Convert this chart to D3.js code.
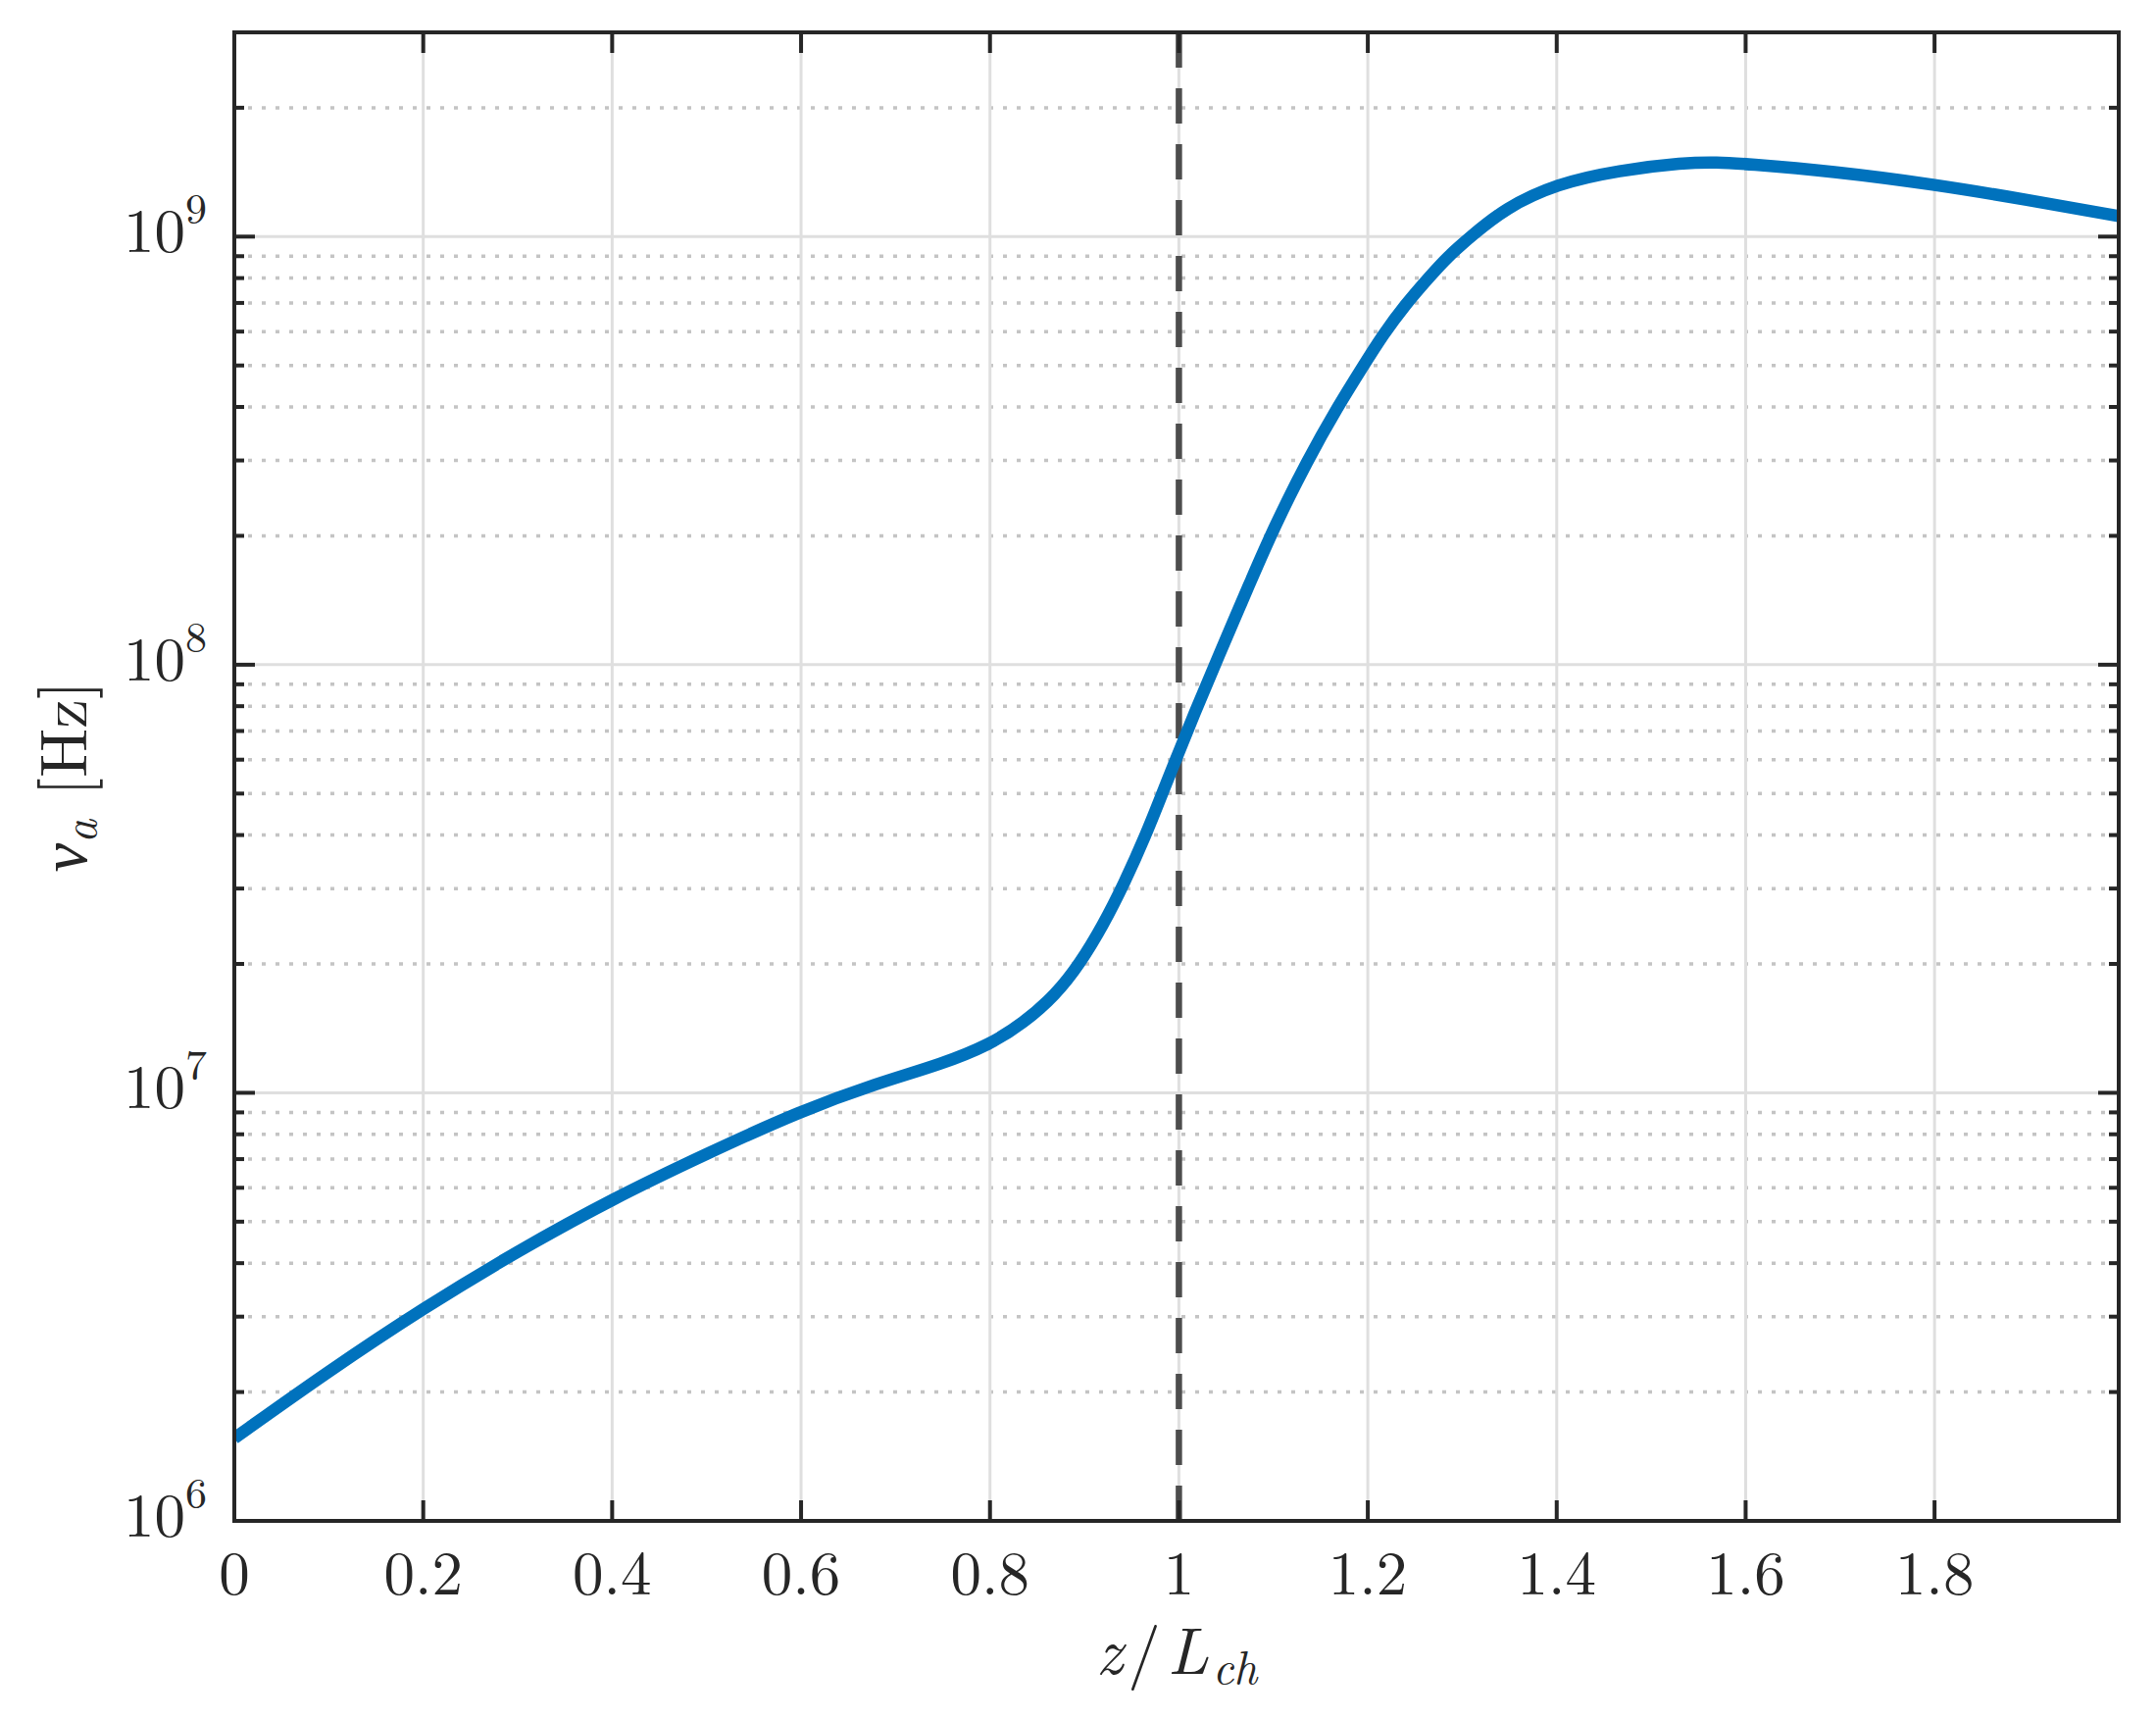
<!DOCTYPE html>
<html>
<head>
<meta charset="utf-8">
<script src="https://cdn.jsdelivr.net/npm/d3@7"></script>
<style>
  html, body { margin: 0; padding: 0; background: #fff; }
  svg { display: block; }
  text { font-family: "Latin Modern Roman", "CMU Serif", "Liberation Serif", serif; fill: #262626; }
</style>
</head>
<body>
<svg id="chart"></svg>
<script>
// z / L_ch positions
const zValues = [
    0.000, 0.100, 0.200, 0.300, 0.400, 0.500, 0.600, 0.680, 0.750, 0.800,
    0.835, 0.870, 0.895, 0.920, 0.942, 0.965, 0.982, 0.995, 1.016, 1.042,
    1.075, 1.101, 1.136, 1.168, 1.195, 1.216, 1.240, 1.264, 1.285, 1.309,
    1.345, 1.400, 1.466, 1.535, 1.570, 1.600, 1.691, 1.800, 1.898, 1.995
];

// nu_a in Hz at those positions
const nuValues = [
    1.56e6, 2.24e6, 3.14e6, 4.27e6, 5.65e6, 7.21e6, 9.08e6, 1.052e7, 1.169e7, 1.297e7,
    1.452e7, 1.698e7, 2.00e7, 2.47e7, 3.08e7, 4.00e7, 4.98e7, 5.87e7, 7.66e7, 1.047e8,
    1.55e8, 2.10e8, 3.00e8, 4.00e8, 4.98e8, 5.90e8, 6.95e8, 8.00e8, 9.00e8, 1.00e9,
    1.164e9, 1.33e9, 1.429e9, 1.489e9, 1.493e9, 1.479e9, 1.422e9, 1.324e9, 1.219e9, 1.117e9
];

const xTicks = [0, 0.2, 0.4, 0.6, 0.8, 1, 1.2, 1.4, 1.6, 1.8];
const xTickLabels = ["0", "0.2", "0.4", "0.6", "0.8", "1", "1.2", "1.4", "1.6", "1.8"];
const xDomain = [0, 1.995];
const yDomain = [1e6, 3e9];
const markerZ = [1];

const W = 2199, H = 1752;
const margin = { top: 33, right: 38, bottom: 201, left: 239 };
const width = W - margin.left - margin.right;
const height = H - margin.top - margin.bottom;

const svg = d3.select("#chart").attr("width", W).attr("height", H);
svg.append("rect").attr("width", W).attr("height", H).attr("fill", "#fff");

const g = svg.append("g").attr("transform", `translate(${margin.left},${margin.top})`);

const xScale = d3.scaleLinear().domain(xDomain).range([0, width]);
const yScale = d3.scaleLog().domain(yDomain).range([height, 0]);

const allY = yScale.ticks();
const isDecade = v => Math.abs(Math.log10(v) - Math.round(Math.log10(v))) < 1e-9;
const majorY = allY.filter(isDecade);
const minorY = allY.filter(v => !isDecade(v));

// minor grid (dotted)
g.append("g").selectAll("line").data(minorY).join("line")
    .attr("x1", 0).attr("x2", width)
    .attr("y1", d => yScale(d)).attr("y2", d => yScale(d))
    .attr("stroke", "#c4c4c4")
    .attr("stroke-width", 3.5)
    .attr("stroke-dasharray", "4 10");

// major grid
g.append("g").selectAll("line").data(majorY).join("line")
    .attr("x1", 0).attr("x2", width)
    .attr("y1", d => yScale(d)).attr("y2", d => yScale(d))
    .attr("stroke", "#dfdfdf")
    .attr("stroke-width", 3);

g.append("g").selectAll("line").data(xTicks).join("line")
    .attr("x1", d => xScale(d)).attr("x2", d => xScale(d))
    .attr("y1", 0).attr("y2", height)
    .attr("stroke", "#dfdfdf")
    .attr("stroke-width", 3);

// vertical dashed marker at z = L_ch
g.append("g").selectAll("line").data(markerZ).join("line")
    .attr("x1", d => xScale(d)).attr("x2", d => xScale(d))
    .attr("y1", 0).attr("y2", height)
    .attr("stroke", "#4d4d4d")
    .attr("stroke-width", 6.5)
    .attr("stroke-dasharray", "36 21");

g.append("clipPath").attr("id", "plotClip")
    .append("rect").attr("width", width).attr("height", height);

const line = d3.line()
    .x((d, i) => xScale(zValues[i]))
    .y(d => yScale(d))
    .curve(d3.curveBasis);

g.append("path")
    .datum(nuValues)
    .attr("clip-path", "url(#plotClip)")
    .attr("fill", "none")
    .attr("stroke", "#0072BD")
    .attr("stroke-width", 12.5)
    .attr("d", line);

// ticks on all four sides, pointing inwards
const tickColor = "#262626";
const yMajorLen = 21, yMinorLen = 10, xTickLen = 21;

const ticks = g.append("g").attr("stroke", tickColor).attr("stroke-width", 4);

ticks.selectAll(".xb").data(xTicks).join("line").attr("class", "xb")
    .attr("x1", d => xScale(d)).attr("x2", d => xScale(d))
    .attr("y1", height).attr("y2", height - xTickLen);
ticks.selectAll(".xt").data(xTicks).join("line").attr("class", "xt")
    .attr("x1", d => xScale(d)).attr("x2", d => xScale(d))
    .attr("y1", 0).attr("y2", xTickLen);

ticks.selectAll(".yl").data(allY).join("line").attr("class", "yl")
    .attr("x1", 0).attr("x2", d => isDecade(d) ? yMajorLen : yMinorLen)
    .attr("y1", d => yScale(d)).attr("y2", d => yScale(d));
ticks.selectAll(".yr").data(allY).join("line").attr("class", "yr")
    .attr("x1", width).attr("x2", d => width - (isDecade(d) ? yMajorLen : yMinorLen))
    .attr("y1", d => yScale(d)).attr("y2", d => yScale(d));

// frame
g.append("rect")
    .attr("width", width).attr("height", height)
    .attr("fill", "none")
    .attr("stroke", tickColor)
    .attr("stroke-width", 4);

// x tick labels
g.append("g").selectAll("text").data(xTicks).join("text")
    .attr("x", d => xScale(d))
    .attr("y", height + 75)
    .attr("text-anchor", "middle")
    .style("font-size", "63px")
    .text((d, i) => xTickLabels[i]);

// y tick labels 10^n
const yLab = g.append("g").selectAll("text").data(majorY).join("text")
    .attr("x", -28)
    .attr("y", d => yScale(d) + 16)
    .attr("text-anchor", "end")
    .style("font-size", "63px");
yLab.append("tspan").text("10");
yLab.append("tspan")
    .attr("dy", -29)
    .style("font-size", "44px")
    .text(d => Math.round(Math.log10(d)));

// x axis label z/L_ch
const xLabel = svg.append("text")
    .attr("x", margin.left + width / 2)
    .attr("y", 1707)
    .attr("text-anchor", "middle")
    .style("font-size", "67px");
xLabel.append("tspan").style("font-style", "italic").text("z");
xLabel.append("tspan").attr("dx", 5).text("/");
xLabel.append("tspan").attr("dx", 7).style("font-style", "italic").text("L");
xLabel.append("tspan").attr("dx", 4).attr("dy", 10).style("font-style", "italic").style("font-size", "47px").text("ch");

// y axis label nu_a [Hz]
const yLabel = svg.append("text")
    .attr("transform", `translate(88, ${margin.top + height / 2}) rotate(-90)`)
    .attr("text-anchor", "middle")
    .style("font-size", "67px");
yLabel.append("tspan").style("font-style", "italic").text("ν");
yLabel.append("tspan").attr("dy", 10).style("font-style", "italic").style("font-size", "47px").text("a");
yLabel.append("tspan").attr("dy", -10).attr("dx", 24).text("[Hz]");
</script>
</body>
</html>
